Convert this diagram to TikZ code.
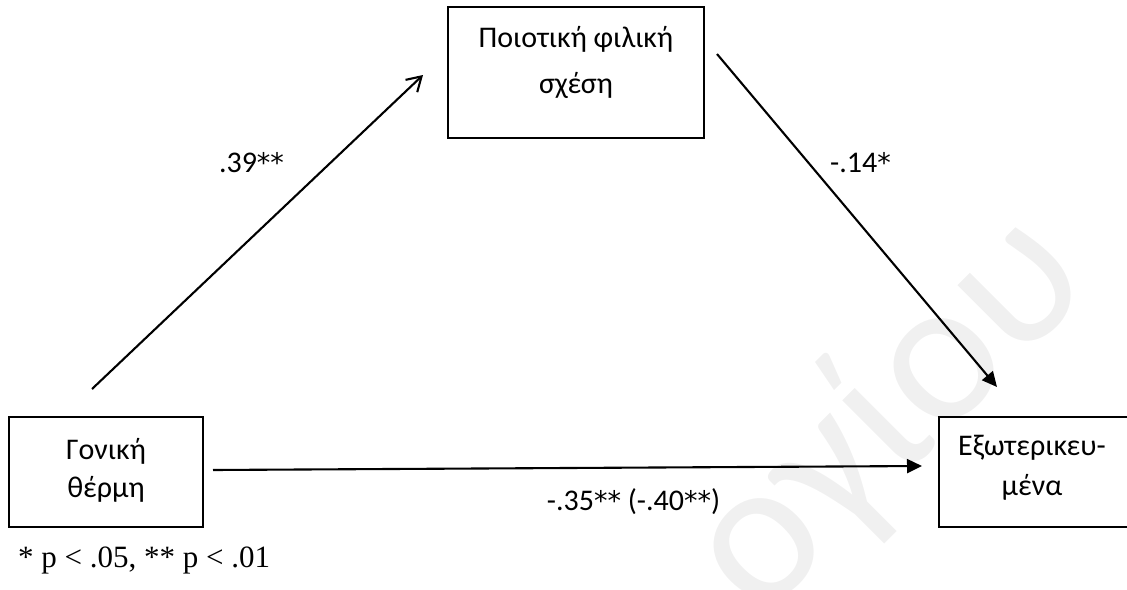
\documentclass[tikz,border=0pt]{standalone}
\usepackage{fontspec}
\setmainfont{Carlito}
\newfontfamily\timesf{Liberation Serif}
\newfontfamily\astf{DejaVu Sans}
\newcommand\st{{\astf\fontsize{27}{27}\selectfont *}}
\usetikzlibrary{arrows.meta}
\begin{document}
\begin{tikzpicture}[x=1pt,y=-1pt,
  box/.style={draw, line width=1.9pt, inner sep=0pt, outer sep=0pt,
    font=\fontsize{30}{40}\selectfont},
  lbl/.style={anchor=base, inner sep=0pt, font=\fontsize{30}{35}\selectfont},
  conn/.style={line width=2.1pt},
  openhead/.style={conn, -{Straight Barb[length=14pt, width=17pt, line width=2.1pt]}},
  fullhead/.style={conn, -{Triangle[length=15pt, width=14pt]}},
  wmark/.style={rotate=45, anchor=base west, inner sep=0pt, text=black!6,
    font=\fontsize{205}{205}\selectfont}]
\useasboundingbox (0,0) rectangle (1127,589);
\clip (0,0) rectangle (1127,589);
% watermark
\node[wmark] (wm) at (760,622) {ογίου};
% boxes
\node[box] (med) at (576,72.5)
  {\parbox[c][131pt][t]{256pt}{\centering\rule{0pt}{40pt}Ποιοτική φιλική\\[6pt]σχέση}};
\node[box] (par) at (106,472)
  {\parbox[c][110pt][t]{194pt}{\centering\rule{0pt}{42pt}Γονική\\[-2pt]θέρμη}};
\node[box] (ext) at (1034,472)
  {\parbox[c][110pt][t]{190pt}{\centering\rule{0pt}{38pt}\hspace*{-4pt}Εξωτερικευ-\\[0pt]\hspace*{-4pt}μένα}};
% connector end points
\coordinate (a1s) at (92,389);
\coordinate (a1e) at (423,75);
\coordinate (a2s) at (717,54);
\coordinate (a2e) at (997,387);
\coordinate (a3s) at (213,470);
\coordinate (a3e) at (922,466);
\draw[openhead] (a1s) -- (a1e);
\draw[fullhead] (a2s) -- (a2e);
\draw[fullhead] (a3s) -- (a3e);
% labels
\node[lbl] (l1) at (251.5,172) {.39\st\st};
\node[lbl] (l2) at (860.5,172) {-.14\st};
\node[lbl] (l3) at (633.5,510) {-.35\st\st{} (-.40\st\st)};
\node[anchor=base west, inner sep=0pt, font=\timesf\fontsize{31}{36}\selectfont] (note) at (18,567) {* p < .05, ** p < .01};
\end{tikzpicture}
\end{document}
